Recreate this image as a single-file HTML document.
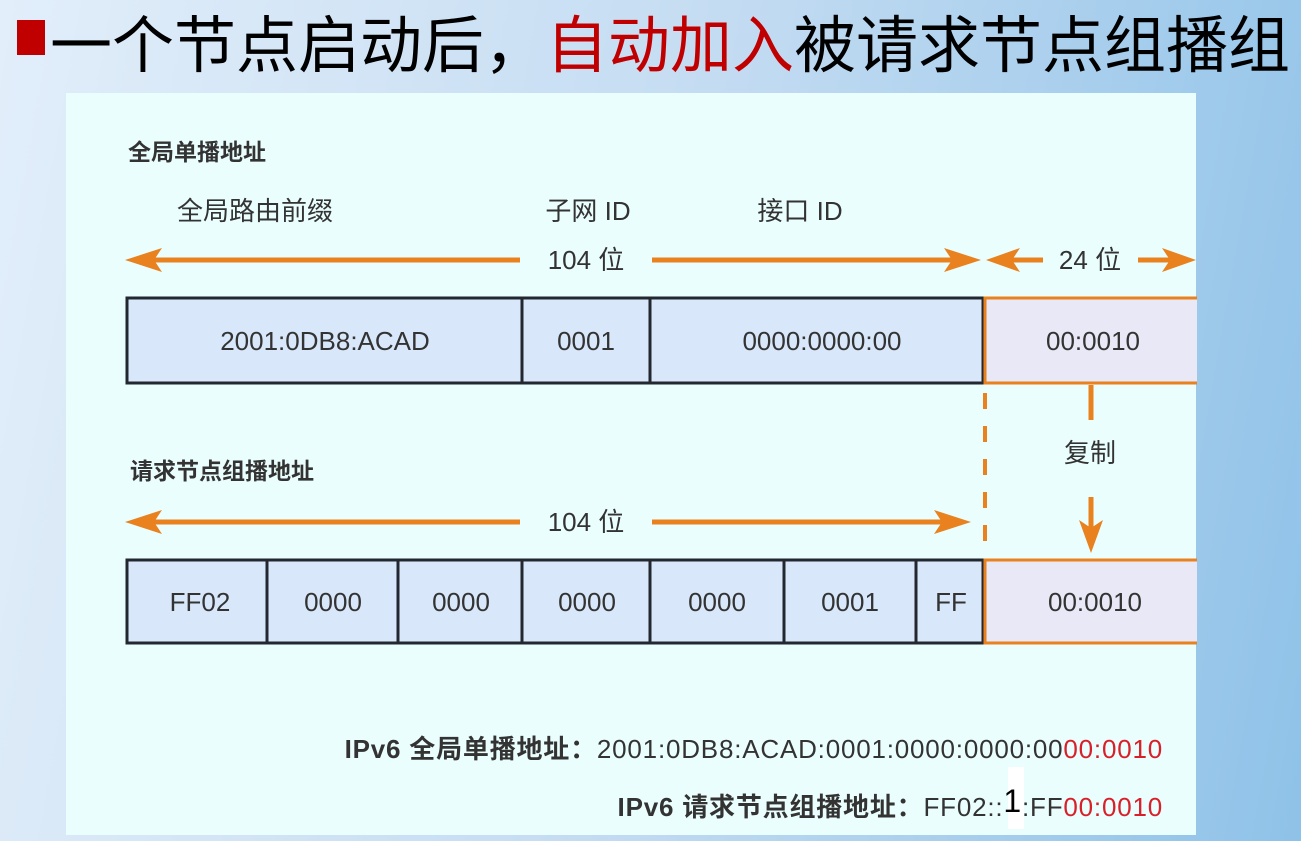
<!DOCTYPE html>
<html><head><meta charset="utf-8"><style>
body{margin:0;width:1301px;height:841px;overflow:hidden;background:linear-gradient(100deg,#e2eefa 0%,#c4dcf2 50%,#8fc2e8 100%);position:relative;font-family:"Liberation Sans","Noto Sans CJK SC",sans-serif}
.t{position:absolute;white-space:nowrap}
.c{position:absolute;white-space:nowrap;text-align:center;font-size:26px;color:#333;line-height:30px}
</style></head><body>
<div style="position:absolute;left:17px;top:20px;width:28px;height:35px;background:#c00000"></div>
<div class="t" style="left:50px;top:3px;font-size:62px;line-height:74px;color:#000;font-family:'Noto Sans CJK SC',sans-serif">一个节点启动后，<span style="color:#c00000">自动加入</span>被请求节点组播组</div>
<div style="position:absolute;left:66px;top:93px;width:1130px;height:742px;background:#eafefd"></div>
<svg style="position:absolute;left:0;top:0" width="1301" height="841">
<g fill="#d8e8fa" stroke="#23272f" stroke-width="3">
<rect x="127" y="298" width="856" height="85"/>
<rect x="127" y="560" width="856" height="83"/>
</g>
<g stroke="#23272f" stroke-width="3">
<line x1="522" y1="298" x2="522" y2="383"/><line x1="650" y1="298" x2="650" y2="383"/>
<line x1="267" y1="560" x2="267" y2="643"/><line x1="398" y1="560" x2="398" y2="643"/><line x1="522" y1="560" x2="522" y2="643"/><line x1="650" y1="560" x2="650" y2="643"/><line x1="784" y1="560" x2="784" y2="643"/><line x1="916" y1="560" x2="916" y2="643"/>
</g>
<g fill="#e8e8f6" stroke="#e8811e" stroke-width="3">
<path d="M1197 298H985V383H1197"/>
<path d="M1197 560H985V643H1197"/>
</g>
<rect x="985" y="299.5" width="211" height="82" fill="#e8e8f6"/>
<rect x="985" y="561.5" width="211" height="80" fill="#e8e8f6"/>
<line x1="985" y1="298" x2="985" y2="383" stroke="#e8811e" stroke-width="3"/>
<line x1="985" y1="560" x2="985" y2="643" stroke="#e8811e" stroke-width="3"/>
<g stroke="#e8811e" stroke-width="5" fill="none">
<line x1="140" y1="260" x2="520" y2="260"/><line x1="652" y1="260" x2="965" y2="260"/>
<line x1="1000" y1="260" x2="1043" y2="260"/><line x1="1138" y1="260" x2="1182" y2="260"/>
<line x1="140" y1="522" x2="520" y2="522"/><line x1="652" y1="522" x2="958" y2="522"/>
<line x1="1091" y1="385" x2="1091" y2="420"/><line x1="1091" y1="497" x2="1091" y2="535"/>
<line x1="985" y1="393" x2="985" y2="556" stroke-width="4" stroke-dasharray="16,17"/>
</g>
<g fill="#e8811e">
<path d="M125 260L162 248L154 260L162 272Z"/>
<path d="M981 260L944 248L952 260L944 272Z"/>
<path d="M986 260L1020 248L1012 260L1020 272Z"/>
<path d="M1196 260L1162 248L1170 260L1162 272Z"/>
<path d="M125 522L162 510L154 522L162 534Z"/>
<path d="M971 522L934 510L942 522L934 534Z"/>
<path d="M1091 553L1079 520L1091 528L1103 520Z"/>
</g>
</svg>
<div class="t" style="left:128px;top:133px;font-size:23px;font-weight:bold;color:#333">全局单播地址</div>
<div class="t" style="left:130px;top:452px;font-size:23px;font-weight:bold;color:#333">请求节点组播地址</div>
<div class="c" style="left:155px;width:200px;top:196px">全局路由前缀</div>
<div class="c" style="left:488px;width:200px;top:196px">子网 ID</div>
<div class="c" style="left:700px;width:200px;top:196px">接口 ID</div>
<div class="c" style="left:486px;width:200px;top:245px">104 位</div>
<div class="c" style="left:990px;width:200px;top:245px">24 位</div>
<div class="c" style="left:486px;width:200px;top:507px">104 位</div>
<div class="c" style="left:990px;width:200px;top:438px">复制</div>
<div class="c" style="left:125px;width:400px;top:326px">2001:0DB8:ACAD</div>
<div class="c" style="left:486px;width:200px;top:326px">0001</div>
<div class="c" style="left:717px;width:210px;top:326px">0000:0000:00</div>
<div class="c" style="left:993px;width:200px;top:326px">00:0010</div>
<div class="c" style="left:100px;width:200px;top:587px">FF02</div>
<div class="c" style="left:233px;width:200px;top:587px">0000</div>
<div class="c" style="left:361px;width:200px;top:587px">0000</div>
<div class="c" style="left:487px;width:200px;top:587px">0000</div>
<div class="c" style="left:617px;width:200px;top:587px">0000</div>
<div class="c" style="left:750px;width:200px;top:587px">0001</div>
<div class="c" style="left:851px;width:200px;top:587px">FF</div>
<div class="c" style="left:995px;width:200px;top:587px">00:0010</div>
<div class="t" style="right:138px;top:729px;font-size:26px;letter-spacing:0.8px;color:#333"><b>IPv6 全局单播地址：</b>2001:0DB8:ACAD:0001:0000:0000:00<span style="color:#d9202a">00:0010</span></div>
<div style="position:absolute;left:1008px;top:767px;width:16px;height:62px;background:#fff"></div>
<div class="t" style="right:138px;top:787px;font-size:26px;letter-spacing:0.8px;color:#333"><b>IPv6 请求节点组播地址：</b>FF02::<span style="font-size:32px;color:#000;position:relative;top:-4px">1</span>:FF<span style="color:#d9202a">00:0010</span></div>
</body></html>
